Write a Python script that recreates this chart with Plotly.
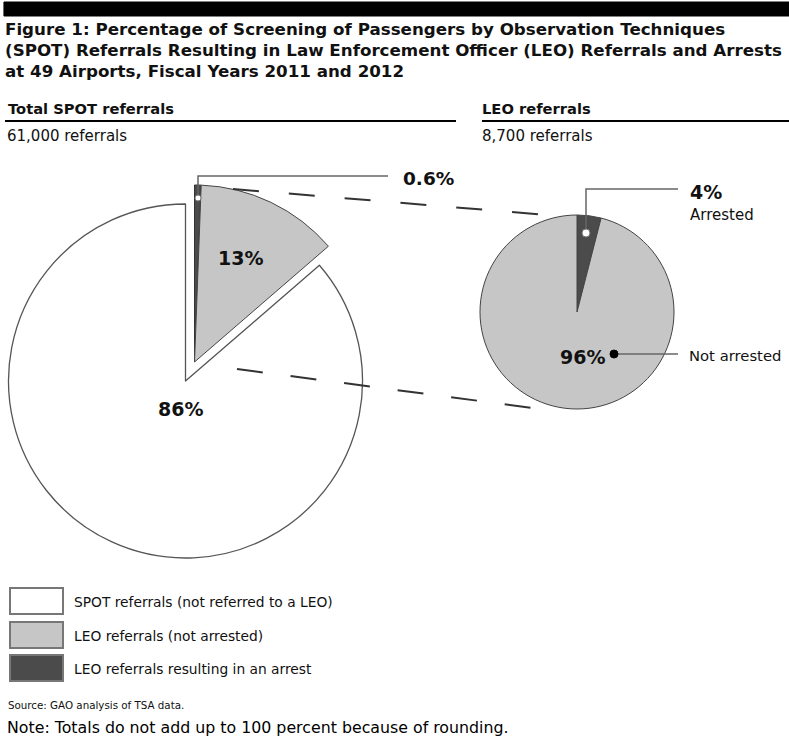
import plotly.graph_objects as go

W, H = 789, 740

# ---- data ----
spot_labels = ["LEO referrals resulting in an arrest", "LEO referrals (not arrested)", "SPOT referrals (not referred to a LEO)"]
spot_values = [0.6, 13, 86]
leo_labels = ["Arrested", "Not arrested"]
leo_values = [4, 96]
total_spot = "61,000 referrals"
total_leo = "8,700 referrals"

WHITE = "#ffffff"
GRAY = "#c6c6c6"
DARK = "#4b4b4b"
CLEAR = "rgba(0,0,0,0)"
EDGE = "#555555"
FONT = "DejaVu Sans, Liberation Sans, Arial, sans-serif"


def px(x):
    return x / W


def py(y):
    return 1 - y / H


def dom(cx, cy, r):
    return dict(x=[px(cx - r), px(cx + r)], y=[py(cy + r), py(cy - r)])


fig = go.Figure()

pie_common = dict(sort=False, direction="clockwise", rotation=0, textinfo="none",
                  hoverinfo="skip", showlegend=False)

# left pie: base (white slice)
fig.add_trace(go.Pie(labels=spot_labels, values=spot_values, domain=dom(185.5, 381, 177),
                     marker=dict(colors=[CLEAR, CLEAR, WHITE],
                                 line=dict(color=[CLEAR, CLEAR, EDGE], width=[0, 0, 1.3])),
                     **pie_common))
# left pie: exploded LEO part
fig.add_trace(go.Pie(labels=spot_labels, values=spot_values, domain=dom(194.5, 362, 177),
                     marker=dict(colors=[DARK, GRAY, CLEAR],
                                 line=dict(color=["#333", "#444", CLEAR], width=[1, 1, 0])),
                     **pie_common))
# right pie
fig.add_trace(go.Pie(labels=leo_labels, values=leo_values, domain=dom(577, 312, 97),
                     marker=dict(colors=[DARK, GRAY], line=dict(color="#444", width=1)),
                     **pie_common))

shapes = []
# top black bar
shapes.append(dict(type="rect", xref="paper", yref="paper", x0=0.005, x1=1.0, y0=py(16), y1=py(2),
                   fillcolor="black", line=dict(color="black", width=1), layer="below"))
# header rules
for x0, x1 in [(5, 456), (482, 789)]:
    shapes.append(dict(type="line", xref="paper", yref="paper", x0=px(x0), x1=px(x1), y0=py(121), y1=py(121),
                       line=dict(color="black", width=2)))
# dashed connector lines (drawn over the pies, like the reference)
shapes.append(dict(type="line", xref="paper", yref="paper", x0=px(233), y0=py(189), x1=px(548), y1=py(215),
                   line=dict(color="#333", width=2, dash="26px,30px"), layer="above"))
shapes.append(dict(type="line", xref="paper", yref="paper", x0=px(237), y0=py(369), x1=px(548), y1=py(410),
                   line=dict(color="#333", width=2, dash="26px,28px"), layer="above"))


def path(pts):
    s = "M " + " L ".join(f"{px(x)},{py(y)}" for x, y in pts)
    return s


# leader lines
shapes.append(dict(type="path", xref="paper", yref="paper", path=path([(198, 197), (198, 176), (388, 176)]),
                   line=dict(color="#666", width=1.5), layer="above"))
shapes.append(dict(type="path", xref="paper", yref="paper", path=path([(586, 233), (586, 189), (678, 189)]),
                   line=dict(color="#666", width=1.5), layer="above"))
shapes.append(dict(type="line", xref="paper", yref="paper", x0=px(614), y0=py(354), x1=px(678), y1=py(354),
                   line=dict(color="#666", width=1.5), layer="above"))


def dot(cx, cy, r, fill, edge):
    return dict(type="circle", xref="paper", yref="paper", x0=px(cx - r), x1=px(cx + r),
                y0=py(cy + r), y1=py(cy - r), fillcolor=fill, line=dict(color=edge, width=1), layer="above")


shapes.append(dot(198, 198, 3, "white", "#777"))
shapes.append(dot(586, 233, 4, "white", "#777"))
shapes.append(dot(614, 354, 4, "black", "black"))

# legend boxes
leg_colors = [WHITE, GRAY, DARK]
leg_text = [spot_labels[2], spot_labels[1], spot_labels[0]]
leg_y = [(588, 614), (622, 648), (655, 681)]
for c, (y0, y1) in zip(leg_colors, leg_y):
    shapes.append(dict(type="rect", xref="paper", yref="paper", x0=px(10), x1=px(63), y0=py(y1), y1=py(y0),
                       fillcolor=c, line=dict(color="#777", width=2)))

ann = []


def text(x, y, s, size, bold=False, xanchor="left", color="#111"):
    if bold:
        s = f"<b>{s}</b>"
    ann.append(dict(x=px(x), y=py(y), xref="paper", yref="paper", text=s, showarrow=False,
                    xanchor=xanchor, yanchor="middle", align="left",
                    font=dict(family=FONT, size=size, color=color)))


text(3, 29, "Figure 1: Percentage of Screening of Passengers by Observation Techniques", 16.7, True)
text(3, 50, "(SPOT) Referrals Resulting in Law Enforcement Officer (LEO) Referrals and Arrests", 16.7, True)
text(3, 71, "at 49 Airports, Fiscal Years 2011 and 2012", 16.7, True)

text(6, 109, "Total SPOT referrals", 14.7, True)
text(480, 109, "LEO referrals", 14.7, True)
text(5, 136, total_spot, 15)
text(480, 136, total_leo, 15)

text(401, 179, f"{spot_values[0]}%", 18.5, True)
text(240, 258, f"{spot_values[1]}%", 19, True, "center")
text(180, 409, f"{spot_values[2]}%", 19, True, "center")

text(688, 192, f"{leo_values[0]}%", 19, True)
text(688, 215, leo_labels[0], 15)
text(582, 357, f"{leo_values[1]}%", 19, True, "center")
text(687, 355, leo_labels[1], 14.8)

for s, (y0, y1) in zip(leg_text, leg_y):
    text(72, (y0 + y1) / 2 + 1, s, 13.8)

text(6, 705, "Source: GAO analysis of TSA data.", 10.3)
text(5, 727, "Note: Totals do not add up to 100 percent because of rounding.", 15.8, False, "left", "#000")

fig.update_layout(width=W, height=H, margin=dict(l=0, r=0, t=0, b=0),
                  paper_bgcolor="white", plot_bgcolor="white",
                  shapes=shapes, annotations=ann, showlegend=False)

fig.write_html("out.html", config={"displayModeBar": False},
               post_script="document.body.style.margin='0px';document.body.style.overflow='hidden';")
